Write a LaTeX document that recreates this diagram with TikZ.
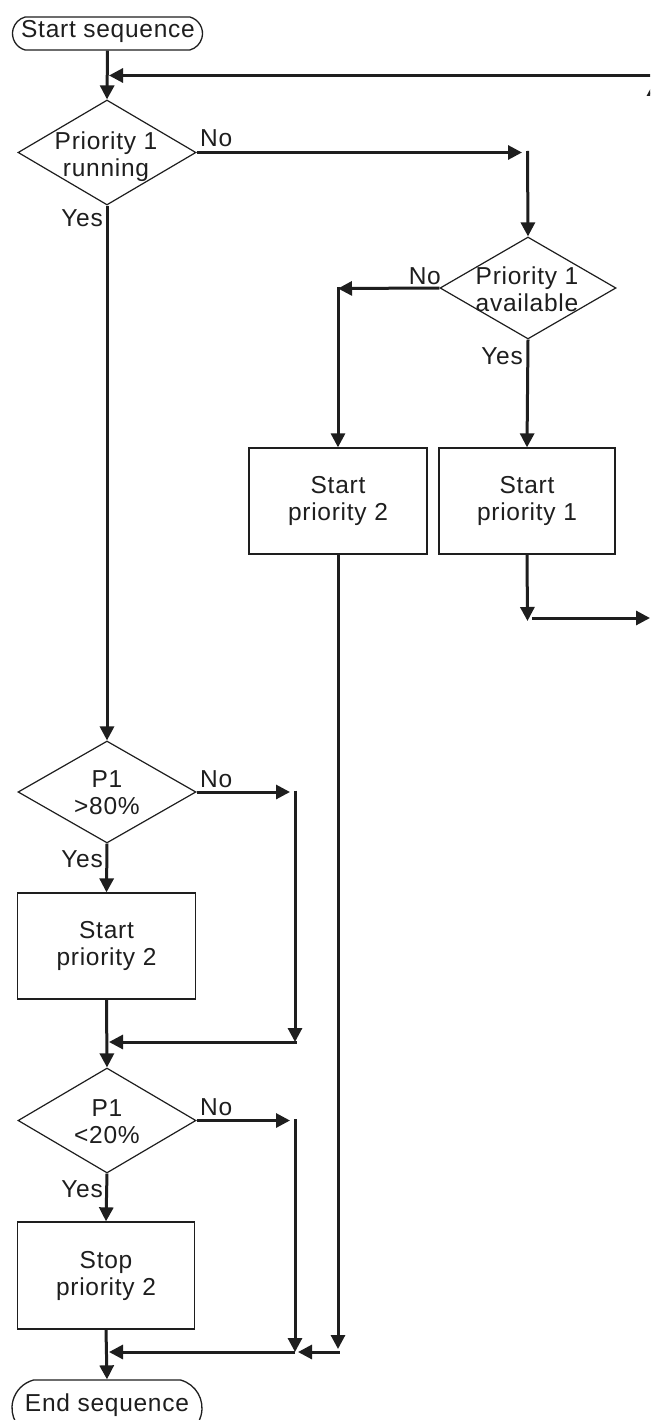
\documentclass[tikz,border=0pt]{standalone}
\usepackage{fontspec}
\setmainfont{Liberation Sans}[LetterSpace=3]
\usetikzlibrary{arrows.meta,shapes.geometric,shapes.misc}
\definecolor{ink}{HTML}{1E1E1E}
\newcommand\figfont{\fontsize{24.5}{27}\selectfont}
\begin{document}
\begin{tikzpicture}[x=1pt,y=-1pt,
  conn/.style={draw=ink,line width=3pt,-{Triangle[length=14pt 0 0,width=14pt 0 0]}},
  procbox/.style={draw=ink,line width=1.3pt,minimum width=178pt,minimum height=106pt,inner sep=0pt,align=center,font=\figfont,text=ink},
  decis/.style={diamond,draw=ink,line width=1.2pt,minimum width=178pt,minimum height=104pt,inner sep=0pt},
  dtext/.style={align=center,font=\figfont,text=ink,inner sep=0pt},
  lbl/.style={font=\figfont,text=ink,inner sep=0pt},
  term/.style={rounded rectangle,rounded rectangle arc length=150,draw=ink,line width=1.3pt,minimum width=190pt,minimum height=33pt,inner xsep=0pt,inner ysep=0pt}
]
\useasboundingbox (0,0) rectangle (650,1420);
\clip (0,0) rectangle (650,1420);
\fill[white] (0,0) rectangle (650,1420);

% terminals
\node[term] (start) at (107.5,33.5) {};
\node[lbl,anchor=base] (starttext) at (108,37.5) {Start sequence};
\node[term,minimum height=56pt] (end) at (107,1408) {};
\node[lbl,anchor=base] (endtext) at (107,1411) {End sequence};

% decisions
\node[decis,minimum height=105pt] (d1) at (107,152.5) {};
\node[dtext] (d1t) at (106,157) {Priority 1\\running};
\node[decis,minimum width=176pt,minimum height=102pt] (d2) at (528,288) {};
\node[dtext] (d2t) at (527,289) {Priority 1\\available};
\node[decis,minimum height=102pt] (d3) at (107,792) {};
\node[dtext] (d3t) at (107,793) {P1\\>80\%};
\node[decis,minimum height=105pt] (d4) at (107,1120.5) {};
\node[dtext] (d4t) at (107,1121.5) {P1\\<20\%};

% process boxes
\node[procbox] (b2m) at (338,501) {Start\\priority 2};
\node[procbox,minimum width=176pt] (b1) at (527,501) {Start\\priority 1};
\node[procbox] (b3) at (106.5,946) {Start\\priority 2};
\node[procbox,minimum width=177pt,minimum height=107pt] (b4) at (106,1275.5) {Stop\\priority 2};

% labels
\node[lbl,anchor=base west] (l1n) at (200,147) {No};
\node[lbl,anchor=base east] (l1y) at (103,227) {Yes};
\node[lbl,anchor=base east] (l2n) at (441,285) {No};
\node[lbl,anchor=base east] (l2y) at (523,364) {Yes};
\node[lbl,anchor=base west] (l3n) at (200,787) {No};
\node[lbl,anchor=base east] (l3y) at (103,867) {Yes};
\node[lbl,anchor=base west] (l4n) at (200,1115) {No};
\node[lbl,anchor=base east] (l4y) at (103,1197) {Yes};

% coordinates
\coordinate (loopR) at (651,75.5);
\coordinate (loopL) at (109,75.5);
\coordinate (upB) at (654,618);
\coordinate (upT) at (654,82);
\coordinate (n1) at (522,152.5);
\coordinate (c1) at (527.5,151);
\coordinate (c2) at (338,288.5);
\coordinate (c2t) at (338,287);
\coordinate (c3) at (527.5,621);
\coordinate (c4) at (532,618);
\coordinate (c5) at (650,618);
\coordinate (n3) at (290,792);
\coordinate (v3t) at (295,790.5);
\coordinate (v3b) at (295,1042);
\coordinate (h3r) at (296.5,1042);
\coordinate (h3l) at (109,1042);
\coordinate (n4) at (290,1120.5);
\coordinate (v4t) at (295,1119);
\coordinate (v4b) at (295,1352);
\coordinate (v5b) at (338,1349);
\coordinate (h5r) at (339.5,1352);
\coordinate (h5l) at (298,1352);
\coordinate (h6r) at (295,1352);
\coordinate (h6l) at (109,1352);

% connectors
\draw[conn] (start.south) -- (d1.north);
\draw[conn] (loopR) -- (loopL);
\draw[conn] (upB) -- (upT);
\draw[conn] (d1.east) -- (n1);
\draw[conn] (c1) -- (d2.north);
\draw[conn] (d2.west) -- (c2);
\draw[conn] (c2t) -- (b2m.north);
\draw[conn] (d2.south) -- (b1.north);
\draw[conn] (b1.south) -- (c3);
\draw[conn] (c4) -- (c5);
\draw[conn] (d1.south) -- (d3.north);
\draw[conn] (d3.east) -- (n3);
\draw[conn] (v3t) -- (v3b);
\draw[conn] (h3r) -- (h3l);
\draw[conn] (d3.south) -- (b3.north);
\draw[conn] (b3.south) -- (d4.north);
\draw[conn] (d4.east) -- (n4);
\draw[conn] (v4t) -- (v4b);
\draw[conn] (d4.south) -- (b4.north);
\draw[conn] (b2m.south) -- (v5b);
\draw[conn] (h5r) -- (h5l);
\draw[conn] (h6r) -- (h6l);
\draw[conn] (b4.south) -- (end.north);
\end{tikzpicture}
\end{document}
